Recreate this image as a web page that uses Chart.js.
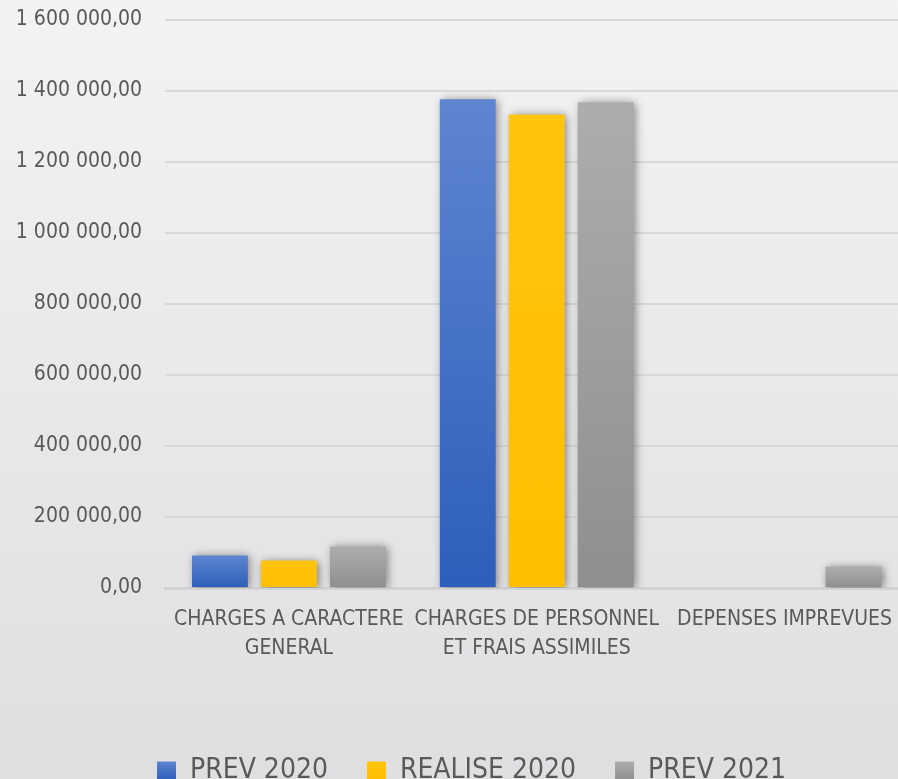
<!DOCTYPE html>
<html>
<head>
<meta charset="utf-8">
<script src="https://cdn.jsdelivr.net/npm/chart.js@4"></script>
<style>
  html, body { margin: 0; padding: 0; overflow: hidden; width: 898px; height: 779px; }
  #wrap { position: absolute; left: 0; top: 0; width: 909px; height: 795px; }
</style>
</head>
<body>
<div id="wrap"><canvas id="myChart"></canvas></div>
<script>
const categories = [
    ['CHARGES A CARACTERE', 'GENERAL'],
    ['CHARGES DE PERSONNEL', 'ET FRAIS ASSIMILES'],
    'DEPENSES IMPREVUES'
];
const seriesNames = ['PREV 2020', 'REALISE 2020', 'PREV 2021'];
const prev2020 = [91600, 1376500, 0];
const realise2020 = [77500, 1334000, 0];
const prev2021 = [117000, 1368000, 60600];

const FONT = "'DejaVu Sans Condensed', 'Liberation Sans', sans-serif";
const TEXT = '#595959';

// colour pairs: top / bottom of each bar
const shades = [
    ['#5e85d0', '#2d5ebb'],
    ['#ffc40d', '#ffbf00'],
    ['#adadad', '#8f8f8f']
];

function formatValue(v) {
    const parts = Math.round(v).toString().replace(/\B(?=(\d{3})+(?!\d))/g, ' ');
    return parts + ',00';
}

function barFill(i) {
    return (ctx) => {
        const chart = ctx.chart;
        const c = chart.ctx;
        if (ctx.type !== 'data' || !chart.chartArea) return shades[i][1];
        const y = chart.scales.y;
        const top = y.getPixelForValue(ctx.raw);
        const bottom = y.getPixelForValue(0);
        if (!isFinite(top) || top === bottom) return shades[i][1];
        const g = c.createLinearGradient(0, top, 0, bottom);
        g.addColorStop(0, shades[i][0]);
        g.addColorStop(1, shades[i][1]);
        return g;
    };
}

const background = {
    id: 'background',
    beforeDraw(chart) {
        const { ctx, width, height } = chart;
        const g = ctx.createLinearGradient(0, 0, 0, 779);
        g.addColorStop(0, '#f3f3f4');
        g.addColorStop(1, '#dfdfe2');
        ctx.save();
        ctx.fillStyle = g;
        ctx.fillRect(0, 0, width, height);
        ctx.restore();
    }
};

const barShadow = {
    id: 'barShadow',
    beforeDatasetsDraw(chart) {
        const ctx = chart.ctx;
        ctx.save();
        ctx.shadowColor = 'rgba(0,0,0,0.45)';
        ctx.shadowBlur = 9;
        ctx.shadowOffsetX = 2;
        ctx.shadowOffsetY = 1;
    },
    afterDatasetsDraw(chart) {
        chart.ctx.restore();
    }
};

// the legend sits a little right of the canvas centre in the original
const legendShift = {
    id: 'legendShift',
    afterLayout(chart) {
        if (chart.legend) {
            chart.legend.left += 17;
            chart.legend.right += 17;
        }
    }
};

const values = [prev2020, realise2020, prev2021];

new Chart(document.getElementById('myChart'), {
    type: 'bar',
    data: {
        labels: categories,
        datasets: values.map((data, i) => ({
            label: seriesNames[i],
            data,
            backgroundColor: barFill(i),
            borderWidth: 0,
            categoryPercentage: 0.835,
            barPercentage: 0.81
        }))
    },
    options: {
        responsive: true,
        maintainAspectRatio: false,
        animation: false,
        layout: { padding: { top: 0, right: 0, left: 0, bottom: 0 } },
        plugins: {
            legend: {
                position: 'bottom',
                labels: {
                    color: TEXT,
                    font: { family: FONT, size: 28 },
                    boxWidth: 19,
                    boxHeight: 19,
                    padding: 39,
                    generateLabels(chart) {
                        return chart.data.datasets.map((ds, i) => {
                            const g = chart.ctx.createLinearGradient(0, 761, 0, 780);
                            g.addColorStop(0, shades[i][0]);
                            g.addColorStop(1, shades[i][1]);
                            return {
                                text: ds.label,
                                fillStyle: g,
                                strokeStyle: 'rgba(0,0,0,0)',
                                lineWidth: 0,
                                fontColor: TEXT,
                                datasetIndex: i
                            };
                        });
                    }
                }
            },
            title: { display: false },
            tooltip: { enabled: false }
        },
        scales: {
            x: {
                grid: { display: false, drawTicks: false },
                border: { display: true, color: '#d2d2d4', width: 3 },
                ticks: {
                    color: TEXT,
                    font: { family: FONT, size: 21, lineHeight: 1.38 },
                    padding: 17,
                    maxRotation: 0,
                    autoSkip: false
                },
                afterFit(scale) { scale.height = 130; }
            },
            y: {
                min: 0,
                max: 1600000,
                grid: { color: '#d9d9db', lineWidth: 2, drawTicks: false },
                border: { display: false },
                ticks: {
                    stepSize: 200000,
                    color: TEXT,
                    font: { family: FONT, size: 21 },
                    padding: 23,
                    callback: (v) => formatValue(v)
                },
                afterFit(scale) {
                    scale.width = 165;
                    scale.paddingTop = 20;
                    scale.paddingBottom = 0;
                }
            }
        }
    },
    plugins: [background, barShadow, legendShift]
});
</script>
</body>
</html>
